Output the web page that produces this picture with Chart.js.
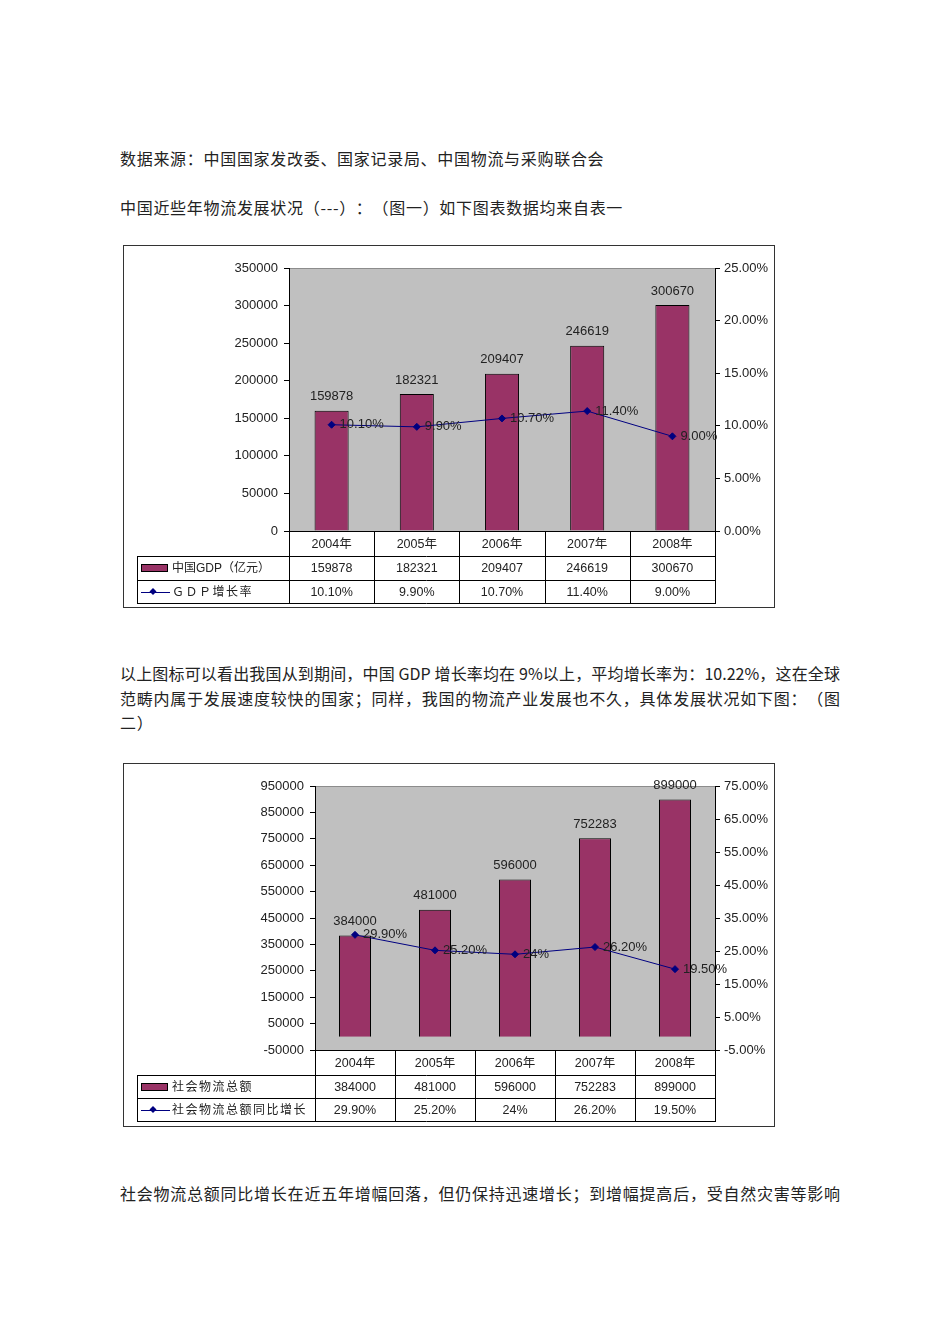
<!DOCTYPE html>
<html>
<head>
<meta charset="utf-8">
<script src="https://cdn.jsdelivr.net/npm/chart.js@4.4.0/dist/chart.umd.min.js"></script>
<style>
body { margin: 0; background: #fff; width: 950px; height: 1344px; position: relative; overflow: hidden; font-family: "Noto Sans CJK SC", sans-serif; }
.t { position: absolute; left: 120px; font-size: 16px; line-height: 20px; color: #222; white-space: nowrap; letter-spacing: 0.7px; text-spacing-trim: space-all; }
.j { width: 720px; text-align: justify; text-align-last: justify; letter-spacing: 0; }
canvas { position: absolute; }
</style>
</head>
<body>
<div class="t" style="top:148px">数据来源：中国国家发改委、国家记录局、中国物流与采购联合会</div>
<div class="t" style="top:197px">中国近些年物流发展状况（---）：（图一）如下图表数据均来自表一</div>
<canvas id="chart1" width="652" height="363" style="left:123px;top:245px"></canvas>
<div class="t j" style="top:663px">以上图标可以看出我国从到期间，中国 GDP 增长率均在 9%以上，平均增长率为：10.22%，这在全球</div>
<div class="t j" style="top:688px">范畴内属于发展速度较快的国家；同样，我国的物流产业发展也不久，具体发展状况如下图：（图</div>
<div class="t" style="top:712px">二）</div>
<canvas id="chart2" width="652" height="364" style="left:123px;top:763px"></canvas>
<div class="t j" style="top:1183px">社会物流总额同比增长在近五年增幅回落，但仍保持迅速增长；到增幅提高后，受自然灾害等影响</div>

<script>
var years = ['2004年', '2005年', '2006年', '2007年', '2008年'];

var gdp = [159878, 182321, 209407, 246619, 300670];
var gdpRate = [10.1, 9.9, 10.7, 11.4, 9.0];
var gdpRateText = ['10.10%', '9.90%', '10.70%', '11.40%', '9.00%'];

var logistics = [384000, 481000, 596000, 752283, 899000];
var logisticsRate = [29.9, 25.2, 24, 26.2, 19.5];
var logisticsRateText = ['29.90%', '25.20%', '24%', '26.20%', '19.50%'];

var numFont = 'Liberation Sans, Arial, sans-serif';
var cjkFont = 'Liberation Sans, "Noto Sans CJK SC", sans-serif';

function px(v) { return Math.round(v) + 0.5; }

function makeChart(id, o)
{
    var ctx = document.getElementById(id).getContext('2d');

    var sheet = {
        id: 'sheet',
        beforeDraw: function(chart) {
            var a = chart.chartArea, c = chart.ctx;
            c.save();
            c.fillStyle = '#c0c0c0';
            c.fillRect(a.left, a.top, a.right - a.left, a.bottom - a.top);
            c.strokeStyle = '#8c8c8c';
            c.lineWidth = 1;
            c.beginPath();
            c.moveTo(a.left, px(a.top));
            c.lineTo(a.right, px(a.top));
            c.stroke();
            c.restore();
        },
        afterDatasetsDraw: function(chart) {
            var c = chart.ctx;
            c.save();
            c.fillStyle = '#222';
            c.font = '13px ' + numFont;
            c.textBaseline = 'middle';
            // bar values
            c.textAlign = 'center';
            chart.getDatasetMeta(1).data.forEach(function(el, i) {
                c.fillText(String(o.values[i]), el.x, el.y - 14);
            });
            // rate labels
            c.textAlign = 'left';
            chart.getDatasetMeta(0).data.forEach(function(el, i) {
                c.fillText(o.rateText[i], el.x + 8, el.y);
            });
            c.restore();
        },
        afterDraw: function(chart) {
            var a = chart.chartArea, c = chart.ctx, xs = chart.scales.x;
            var n = years.length, colW = (a.right - a.left) / n;
            var y0 = a.bottom, y1 = y0 + o.rows[0], y2 = y1 + o.rows[1], y3 = y2 + o.rows[2];
            var L = o.legendLeft;
            c.save();
            c.strokeStyle = '#000';
            c.lineWidth = 1;
            c.beginPath();
            c.moveTo(a.left, px(y0)); c.lineTo(a.right, px(y0));
            [y1, y2, y3].forEach(function(y) { c.moveTo(L, px(y)); c.lineTo(px(a.right) + 0.5, px(y)); });
            for (var i = 0; i <= n; i++) {
                var xv = px(a.left + i * colW);
                c.moveTo(xv, y0); c.lineTo(xv, px(y3));
            }
            c.moveTo(px(L), px(y1)); c.lineTo(px(L), px(y3));
            c.stroke();

            c.fillStyle = '#222';
            c.font = '12.5px ' + cjkFont;
            c.textAlign = 'center';
            c.textBaseline = 'middle';
            for (var k = 0; k < n; k++) {
                var cx = xs.getPixelForValue(k);
                c.fillText(years[k], cx, (y0 + y1) / 2 + 1);
                c.fillText(String(o.values[k]), cx, (y1 + y2) / 2 + 1);
                c.fillText(o.rateText[k], cx, (y2 + y3) / 2 + 1);
            }

            // legend cells
            var m2 = (y1 + y2) / 2, m3 = (y2 + y3) / 2;
            c.fillStyle = '#993366';
            c.fillRect(L + 4, Math.round(m2 - 4), 27, 8);
            c.strokeRect(L + 4.5, Math.round(m2 - 4) + 0.5, 26, 7);
            c.strokeStyle = '#000080';
            c.beginPath();
            c.moveTo(L + 4, px(m3)); c.lineTo(L + 33, px(m3));
            c.stroke();
            c.fillStyle = '#000080';
            c.beginPath();
            c.moveTo(L + 16, m3 - 3.5); c.lineTo(L + 19.5, m3); c.lineTo(L + 16, m3 + 3.5); c.lineTo(L + 12.5, m3);
            c.closePath();
            c.fill();
            c.fillStyle = '#222';
            c.font = '12px ' + cjkFont;
            c.textAlign = 'left';
            c.letterSpacing = o.legendSpacing[0] + 'px';
            c.fillText(o.barLabel, L + 35, m2 + 1);
            c.letterSpacing = o.legendSpacing[1] + 'px';
            c.fillText(o.lineLabel, L + 35, m3 + 1);
            c.letterSpacing = '0px';

            // outer frame
            c.strokeStyle = '#333';
            c.strokeRect(0.5, 0.5, chart.width - 1, chart.height - 1);
            c.restore();
        }
    };

    new Chart(ctx, {
        type: 'bar',
        data: {
            labels: years,
            datasets: [{
                type: 'line',
                label: o.lineLabel,
                data: o.rates,
                yAxisID: 'y1',
                borderColor: '#000080',
                borderWidth: 1,
                pointStyle: 'rectRot',
                pointRadius: 3.5,
                pointBackgroundColor: '#000080',
                pointBorderColor: '#000080',
                tension: 0,
                order: 0
            }, {
                label: o.barLabel,
                data: o.values,
                yAxisID: 'y',
                backgroundColor: '#993366',
                borderColor: '#000',
                borderWidth: 1,
                barPercentage: 0.4,
                categoryPercentage: 1.0,
                order: 1
            }]
        },
        options: {
            responsive: false,
            animation: false,
            layout: { padding: { top: 23, left: 0, right: 0, bottom: 0 } },
            plugins: {
                legend: { display: false },
                tooltip: { enabled: false }
            },
            scales: {
                x: {
                    offset: true,
                    grid: { display: false },
                    border: { display: false },
                    ticks: { display: false },
                    afterFit: function(s) { s.height = 77; }
                },
                y: {
                    position: 'left',
                    min: o.yMin, max: o.yMax,
                    ticks: {
                        stepSize: o.yStep,
                        padding: 6,
                        color: '#222',
                        font: { family: numFont, size: 13 },
                        callback: function(v) { return String(v); }
                    },
                    grid: {
                        drawOnChartArea: true,
                        tickLength: 5,
                        tickColor: '#000',
                        color: function(c) { return c.tick && c.tick.value === 0 ? '#000' : 'rgba(0,0,0,0)'; }
                    },
                    border: { display: true, color: '#000' },
                    afterFit: function(s) { s.width = o.leftWidth; }
                },
                y1: {
                    position: 'right',
                    min: o.rMin, max: o.rMax,
                    ticks: {
                        stepSize: o.rStep,
                        padding: 4,
                        color: '#222',
                        font: { family: numFont, size: 13 },
                        callback: function(v) { return v.toFixed(2) + '%'; }
                    },
                    grid: { drawOnChartArea: false, tickLength: 5, color: '#000' },
                    border: { display: true, color: '#000' },
                    afterFit: function(s) { s.width = 60; }
                }
            }
        },
        plugins: [sheet]
    });
}

window.onload = function() {
    makeChart('chart1', {
        values: gdp, rates: gdpRate, rateText: gdpRateText,
        barLabel: '中国GDP（亿元）', lineLabel: 'ＧＤＰ增长率',
        legendSpacing: [0, 1.5],
        yMin: 0, yMax: 350000, yStep: 50000,
        rMin: 0, rMax: 25, rStep: 5,
        leftWidth: 166, legendLeft: 14, rows: [25, 24, 23]
    });
    makeChart('chart2', {
        values: logistics, rates: logisticsRate, rateText: logisticsRateText,
        barLabel: '社会物流总额', lineLabel: '社会物流总额同比增长',
        legendSpacing: [1.5, 1.5],
        yMin: -50000, yMax: 950000, yStep: 100000,
        rMin: -5, rMax: 75, rStep: 10,
        leftWidth: 192, legendLeft: 14, rows: [25, 23, 23]
    });
};
</script>
</body>
</html>
